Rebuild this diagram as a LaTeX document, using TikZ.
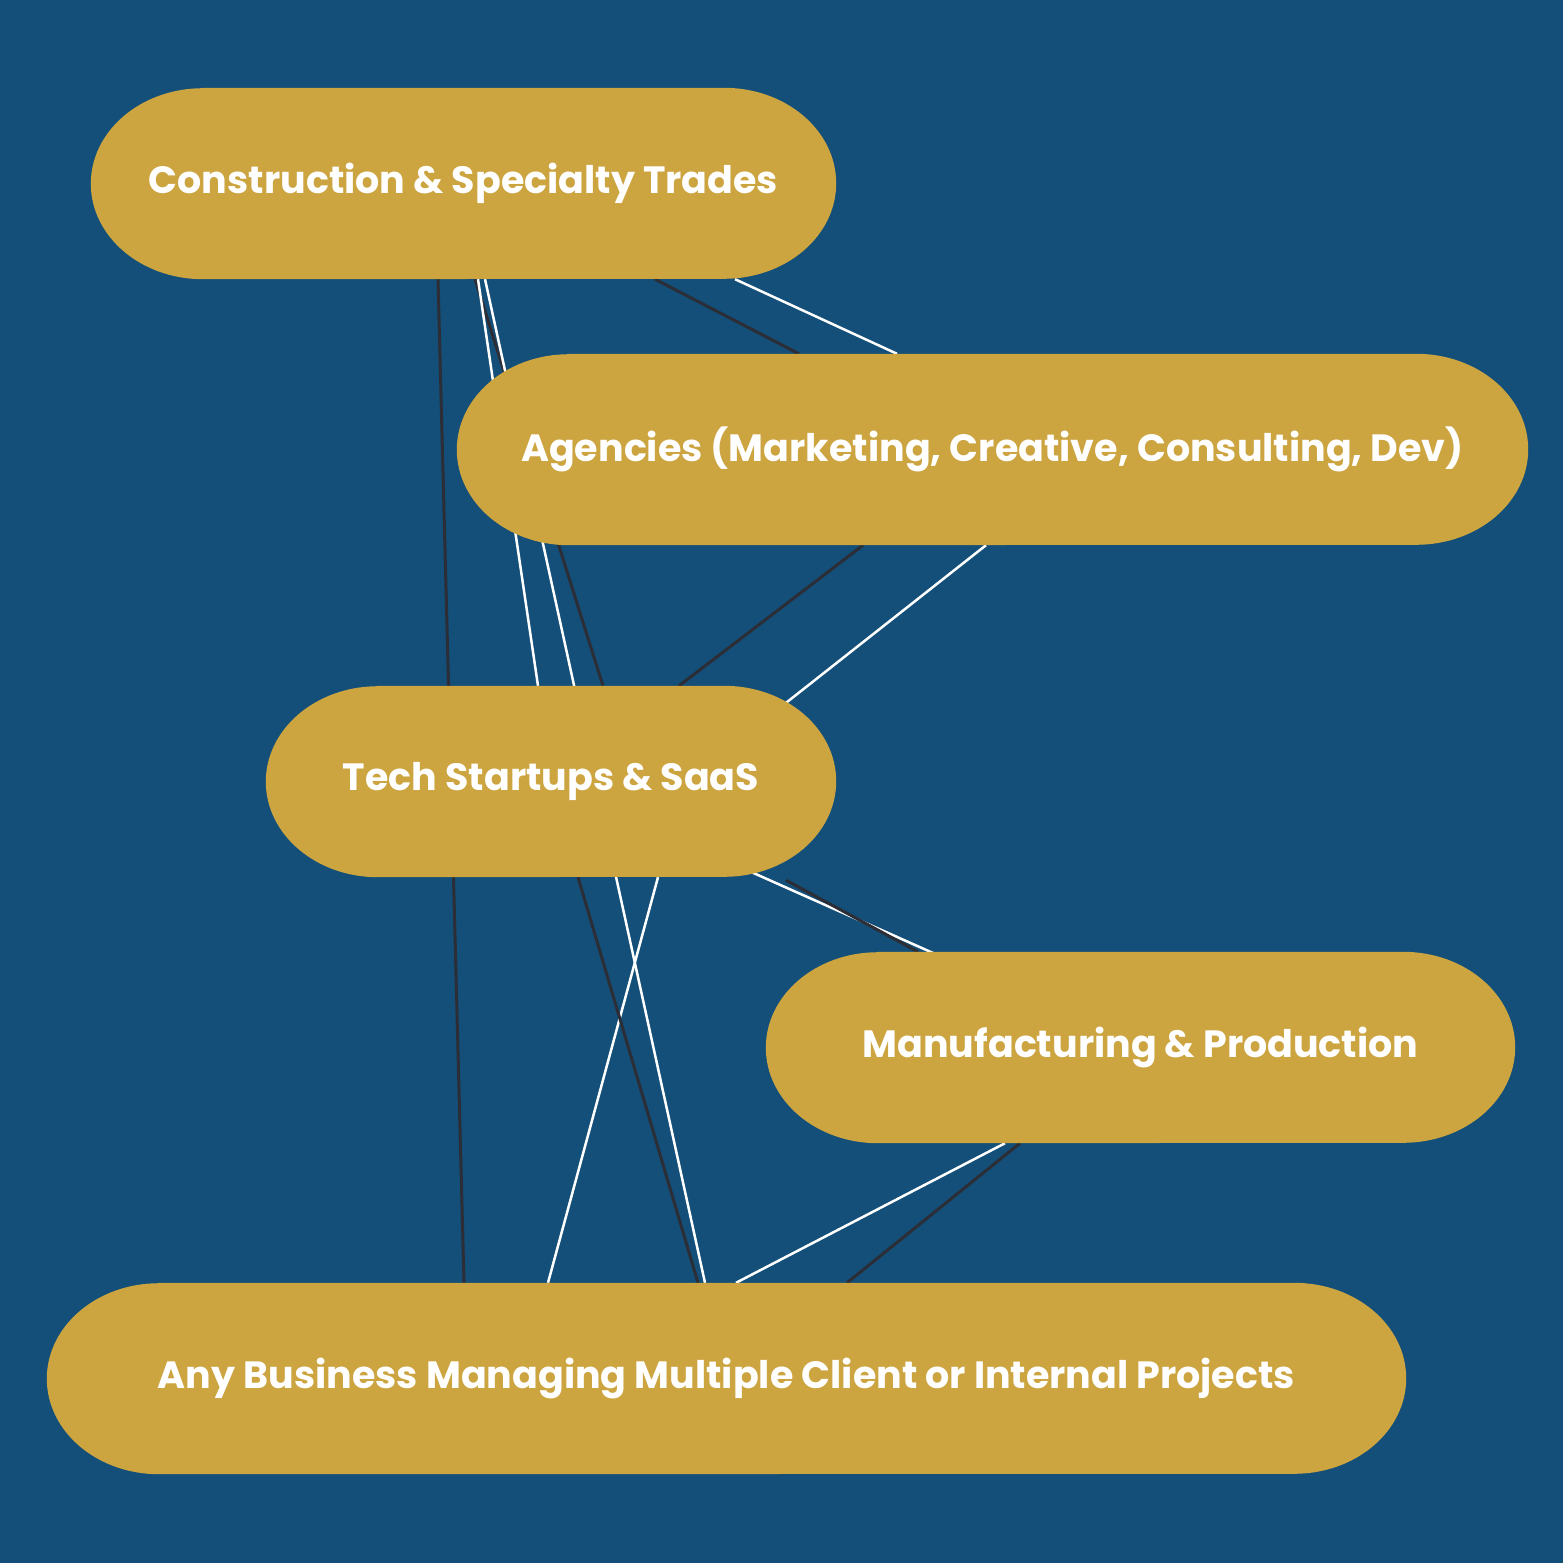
\documentclass[tikz,border=0pt]{standalone}
\usepackage{fontspec}
\setmainfont{Poppins}
\usetikzlibrary{calc}
\definecolor{navyBg}{HTML}{134F78}
\definecolor{goldPill}{HTML}{CCA440}
\definecolor{inkDark}{HTML}{2B2E36}
\pgfdeclarelayer{bglayer}
\pgfdeclarelayer{edgelayer}
\pgfdeclarelayer{pilllayer}
\pgfsetlayers{bglayer,edgelayer,pilllayer,main}
\tikzset{
  pill/.style={minimum height=191pt, inner sep=0pt, text=white,
    font=\fontsize{38}{45}\selectfont\bfseries},
  pillfill/.style={fill=goldPill},
  darkline/.style={inkDark, line width=3pt},
  whiteline/.style={white, line width=2.5pt}
}
\begin{document}
\begin{tikzpicture}[x=1pt, y=-1pt]
    % Canvas
    \begin{pgfonlayer}{bglayer}
      \fill[navyBg] (0,0) rectangle (1563,1563);
    \end{pgfonlayer}
    \useasboundingbox (0,0) rectangle (1563,1563);
    % Sector labels
    \node[pill, minimum width=745pt]  (constr) at (463.5,183.5)  {Construction \& Specialty Trades};
    \node[pill, minimum width=1071pt] (agency) at (992.5,449.5)  {Agencies (Marketing, Creative, Consulting, Dev)};
    \node[pill, minimum width=570pt]  (tech)   at (551,781.5)    {Tech Startups \& SaaS};
    \node[pill, minimum width=749pt]  (manuf)  at (1140.5,1047.5) {Manufacturing \& Production};
    \node[pill, minimum width=1359pt] (anybiz) at (726.5,1378.5) {Any Business Managing Multiple Client or Internal Projects};
    % Pill bodies with oval ends
    \begin{pgfonlayer}{pilllayer}
      \foreach \n in {constr, agency, tech, manuf, anybiz}
        \fill[pillfill] ([xshift=112pt]\n.north west) -- ([xshift=-112pt]\n.north east)
          arc[start angle=90, end angle=-90, x radius=112pt, y radius=95.5pt]
          -- ([xshift=112pt]\n.south west)
          arc[start angle=270, end angle=90, x radius=112pt, y radius=95.5pt] -- cycle;
    \end{pgfonlayer}
    % Links, kept under the pills
    \begin{pgfonlayer}{edgelayer}
      % Construction
      \draw[darkline]  ([xshift=191.5pt]constr.south) -- ([xshift=-193.5pt]agency.north);
      \draw[whiteline] ([xshift=271.5pt]constr.south) -- ([xshift=-95.5pt]agency.north);
      \draw[darkline]  ([xshift=11.5pt]constr.south)  -- ([xshift=52pt]tech.north);
      \draw[whiteline] ([xshift=14.5pt]constr.south)  -- ([xshift=-13pt]tech.north);
      \draw[darkline]  ([xshift=-25.5pt]constr.south) -- ([xshift=-262.5pt]anybiz.north);
      \draw[whiteline] ([xshift=21.5pt]constr.south)  -- ([xshift=-21.5pt]anybiz.north);
      % Agencies
      \draw[darkline]  ([xshift=-129.5pt]agency.south) -- ([xshift=128pt]tech.north);
      \draw[whiteline] ([xshift=-6.5pt]agency.south)   -- ([xshift=213.5pt, yshift=-34pt]tech.north);
      % Tech
      \draw[whiteline] ([xshift=158pt, yshift=24pt]tech.south) -- ([xshift=-167.5pt, yshift=-19pt]manuf.north);
      \draw[darkline]  ([xshift=235pt, yshift=-3pt]tech.south) -- ([xshift=-222.5pt]manuf.north);
      \draw[whiteline] ([xshift=107pt]tech.south) -- ([xshift=-178.5pt]anybiz.north);
      \draw[darkline]  ([xshift=27pt]tech.south)  -- ([xshift=-28.5pt]anybiz.north);
      % Manufacturing
      \draw[whiteline] ([xshift=-135.5pt]manuf.south) -- ([xshift=9.5pt]anybiz.north);
      \draw[darkline]  ([xshift=-120.5pt]manuf.south) -- ([xshift=120.5pt]anybiz.north);
    \end{pgfonlayer}
\end{tikzpicture}
\end{document}
